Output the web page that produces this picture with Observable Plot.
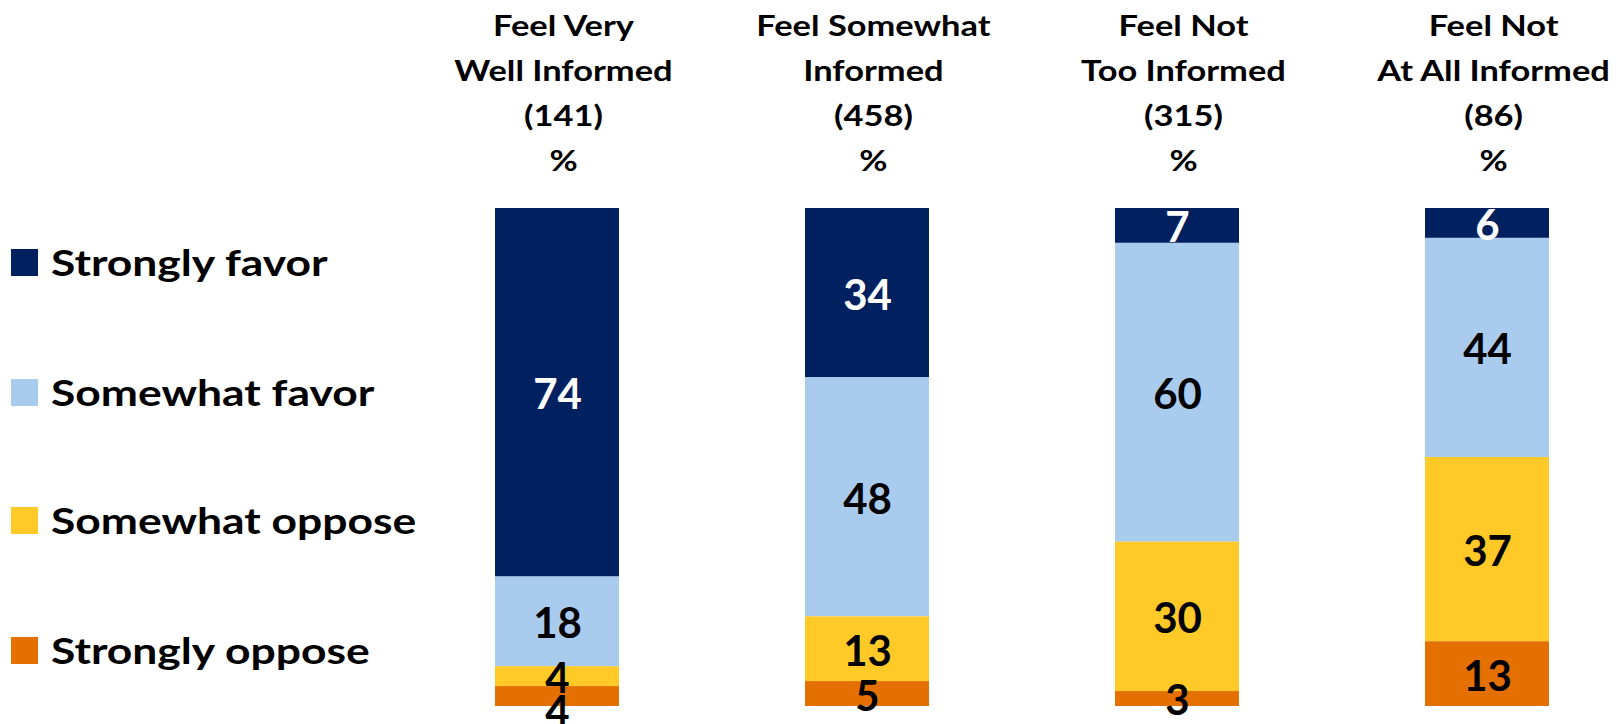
<!DOCTYPE html>
<html>
<head>
<meta charset="utf-8">
<script src="https://cdn.jsdelivr.net/npm/d3@7"></script>
<script src="https://cdn.jsdelivr.net/npm/@observablehq/plot@0.6"></script>
<style>
  html, body { margin: 0; padding: 0; background: #fff; }
  #wrap { position: relative; width: 1619px; height: 724px; font-family: Lato, "Open Sans", sans-serif; }
  #wrap svg { position: absolute; left: 0; top: 0; }
  .legend-row { position: absolute; left: 11px; display: flex; align-items: baseline; font-weight: bold; font-size: 37px; line-height: 1; color: #000; white-space: nowrap; }
  .legend-row .sw { display: inline-block; width: 27px; height: 27px; margin-right: 13px; flex: none; }
  .legend-row .tx { display: inline-block; transform: scaleX(1.2); transform-origin: 0 50%; }
</style>
</head>
<body>
<div id="wrap"></div>
<script>
// ---- data ----
const categories = ["Feel Very\nWell Informed", "Feel Somewhat\nInformed", "Feel Not\nToo Informed", "Feel Not\nAt All Informed"];
const sampleSizes = [141, 458, 315, 86];
const responses = ["Strongly favor", "Somewhat favor", "Somewhat oppose", "Strongly oppose"];
const colors = ["#002060", "#A9CBEE", "#FFCA27", "#E37000"];
const stronglyFavor  = [74, 34, 7, 6];
const somewhatFavor  = [18, 48, 60, 44];
const somewhatOppose = [4, 13, 30, 37];
const stronglyOppose = [4, 5, 3, 13];

const series = [stronglyFavor, somewhatFavor, somewhatOppose, stronglyOppose];

// long table built from the arrays above
const rows = [];
categories.forEach((c, i) => {
  let top = 0, prevLabel = -Infinity;
  responses.forEach((r, j) => {
    const v = series[j][i];
    const mid = top + v / 2;
    const labelY = Math.max(mid, prevLabel + 6.7); // keep stacked labels from colliding
    prevLabel = labelY;
    rows.push({category: c, response: r, value: v, labelY});
    top += v;
  });
});

const headers = categories.map((c, i) => ({category: c, text: `${c}\n(${sampleSizes[i]})\n%`}));

const chart = Plot.plot({
  width: 1619,
  height: 724,
  marginLeft: 493,
  marginRight: 69,
  marginTop: 208,
  marginBottom: 18,
  style: {fontFamily: "Lato, 'Open Sans', sans-serif", background: "transparent"},
  x: {domain: categories, paddingInner: 0.6, paddingOuter: 0, axis: null},
  y: {domain: [0, 100], reverse: true, axis: null},
  color: {domain: responses, range: colors},
  marks: [
    Plot.barY(rows, Plot.stackY({x: "category", y: "value", fill: "response", order: responses})),
    Plot.text(rows.filter(d => d.response === "Strongly favor"), {
      x: "category", y: "labelY", text: d => String(d.value),
      fill: "white", fontSize: 42, fontWeight: "bold", dy: 3
    }),
    Plot.text(rows.filter(d => d.response !== "Strongly favor"), {
      x: "category", y: "labelY", text: d => String(d.value),
      fill: "black", fontSize: 42, fontWeight: "bold", dy: 3
    }),
    Plot.text(headers, {
      x: "category", text: "text", frameAnchor: "top", lineAnchor: "bottom",
      dx: 6, dy: -38, lineHeight: 1.596, fontSize: 28, fontWeight: "bold", fill: "black"
    })
  ]
});

const wrap = document.getElementById("wrap");
wrap.appendChild(chart);

// widen the multi-line header glyphs horizontally (the reference's type is set wide)
d3.select(chart).selectAll("text").each(function () {
  if (this.querySelectorAll("tspan").length < 2) return;
  const b = this.getBBox();
  const cx = b.x + b.width / 2;
  const t = this.getAttribute("transform") || "";
  this.setAttribute("transform", `${t} translate(${cx},0) scale(1.23,1) translate(${-cx},0)`);
});

// legend (overlaid at left)
const baselines = [275.7, 405.7, 534.3, 664.3];
responses.forEach((r, i) => {
  const row = document.createElement("div");
  row.className = "legend-row";
  row.style.top = (baselines[i] - 0.887 * 37) + "px";
  const sw = document.createElement("span");
  sw.className = "sw";
  sw.style.background = colors[i];
  const tx = document.createElement("span");
  tx.className = "tx";
  tx.textContent = r;
  row.appendChild(sw);
  row.appendChild(tx);
  wrap.appendChild(row);
});
</script>
</body>
</html>
